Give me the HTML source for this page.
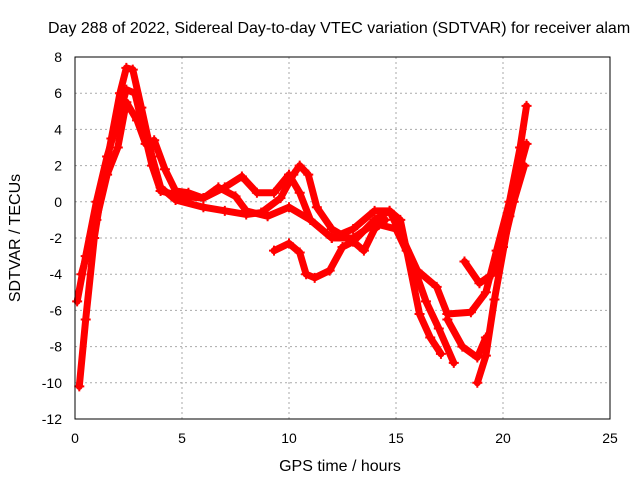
<!DOCTYPE html>
<html><head><meta charset="utf-8"><style>
body{margin:0;background:#fff}
svg{display:block;font-family:"Liberation Sans",sans-serif}
</style></head><body>
<svg id="chart" width="640" height="480">
<text x="48" y="33" font-size="16">Day 288 of 2022, Sidereal Day-to-day VTEC variation (SDTVAR) for receiver alam</text>
<g id="grid"></g><g id="ticks"></g><g id="series"></g>
<rect x="75" y="57" width="535" height="362" fill="none" stroke="#000" stroke-width="1"/>
<text x="340" y="471" font-size="16" text-anchor="middle">GPS time / hours</text>
<text x="20" y="238" font-size="16" text-anchor="middle" transform="rotate(-90 20 238)">SDTVAR / TECUs</text>
</svg>
<script>
const xTicks=[0,5,10,15,20,25];
const yTicks=[-12,-10,-8,-6,-4,-2,0,2,4,6,8];
const trackA=[[0.2,-10.2],[0.5,-6.5],[0.9,-2],[1.3,1],[1.7,3.5],[2.1,6],[2.4,7.4],[2.7,7.3],[3.1,5.2],[3.6,2.5],[4,0.8],[4.7,0.1],[6,-0.3],[7,-0.5],[8,-0.7],[8.7,-0.6],[9.6,0.2],[10.2,1.5],[10.5,2],[10.9,1.5],[11.3,-0.3],[12,-1.5],[13,-2.2],[14,-1],[14.7,-0.5],[15.2,-1],[15.5,-2.7],[16.1,-6.2],[16.6,-7.5],[17.1,-8.4]];
const trackB=[[0.1,-5.5],[0.5,-3],[1,0],[1.5,2.5],[2,4.5],[2.4,6.2],[2.8,6],[3.2,4],[3.6,2],[4,0.6],[5,0.3],[6,0.2],[6.7,0.8],[7.5,0.3],[8,-0.5],[9,-0.8],[10,-0.3],[11,-1],[12,-2],[13,-2],[14,-1.2],[15,-1.5],[15.8,-3.5],[16.4,-5.5],[17,-7],[17.7,-8.9]];
const trackC=[[0.3,-4],[1,-1],[1.5,1.5],[2,3],[2.4,5.5],[2.9,4.5],[3.3,3.2],[3.7,3.4],[4.2,1.8],[4.7,0.6],[5.3,0.5],[6,0.2],[7,0.8],[7.8,1.4],[8.5,0.5],[9.3,0.5],[10,1.5],[10.5,0.5],[11,-1],[12,-2],[13,-1.5],[14,-0.5],[14.7,-0.5],[15.3,-2],[16,-3.8],[16.9,-4.7],[17.4,-6.2],[18.5,-6.1],[19.2,-5],[19.7,-2.7],[20.3,0],[20.8,3],[21.1,5.3]];
const trackD=[[9.3,-2.7],[10,-2.3],[10.5,-2.8],[10.8,-4],[11.2,-4.2],[11.9,-3.8],[12.5,-2.5],[13,-2.2],[13.5,-2.7],[14,-1.5],[14.5,-1]];
const trackE=[[17.4,-6.5],[18.1,-8],[18.8,-8.6],[19.2,-7.5]];
const trackF=[[18.8,-10],[19.2,-8.5],[19.6,-5.4],[20.3,-0.8],[20.7,1.5],[21.1,3.2]];
const trackG=[[18.2,-3.3],[18.9,-4.5],[19.5,-4],[20,-2.5],[20.5,0],[21,2]];
const tracks=[trackA,trackB,trackC,trackD,trackE,trackF,trackG];
const X=v=>75+v*21.4, Y=v=>57+(8-v)*18.1;
const NS="http://www.w3.org/2000/svg";
const g=document.getElementById('grid'),t=document.getElementById('ticks'),s=document.getElementById('series');
function mk(tag,at,par){const e=document.createElementNS(NS,tag);for(const k in at)e.setAttribute(k,at[k]);par.appendChild(e);return e;}
xTicks.forEach(v=>{
 if(v>0&&v<25){const l=mk('line',{x1:X(v),x2:X(v),y1:57,y2:419,stroke:'#aaa','stroke-dasharray':'2,3'},g);
 
 }
 const tx=mk('text',{x:X(v),y:443,'font-size':14,'text-anchor':'middle'},t);tx.textContent=v;
 
 
});
yTicks.forEach(v=>{
 if(v>-12&&v<8){const l=mk('line',{x1:75,x2:610,y1:Y(v),y2:Y(v),stroke:'#aaa','stroke-dasharray':'2,3'},g);
 
 }
 const tx=mk('text',{x:62,y:Y(v)+5,'font-size':14,'text-anchor':'end'},t);tx.textContent=v;
 
 
});
tracks.forEach((tr,i)=>{
 const p=mk('polyline',{points:tr.map(d=>X(d[0])+','+Y(d[1])).join(' '),fill:'none',stroke:'#f00','stroke-width':7,'stroke-linejoin':'round','stroke-linecap':'round'},s);
 
 
 tr.forEach(d=>{const c=mk('path',{d:`M${X(d[0])-5},${Y(d[1])}h10M${X(d[0])},${Y(d[1])-5}v10`,stroke:'#f00','stroke-width':2},s);
 
 });
});
</script>
</body></html>
